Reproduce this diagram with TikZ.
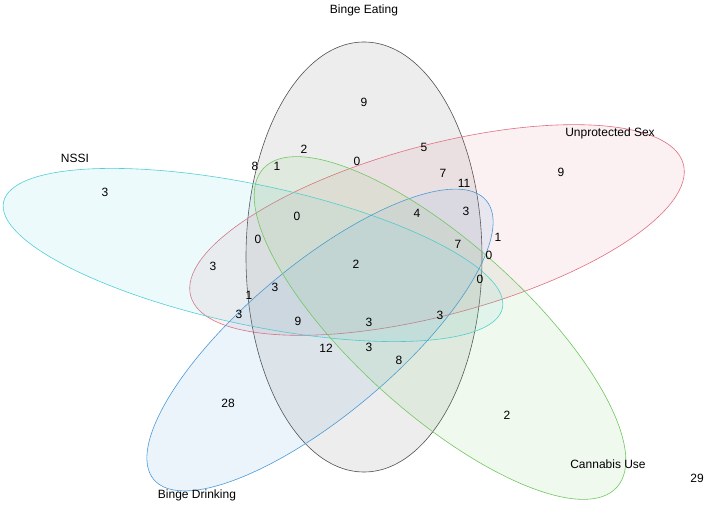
\documentclass[tikz,border=0pt]{standalone}
\usepackage{fontspec}
\setmainfont{Liberation Sans}
\definecolor{eatcol}{HTML}{505050}
\definecolor{sexcol}{HTML}{E07080}
\definecolor{nssicol}{HTML}{50D0D8}
\definecolor{drinkcol}{HTML}{4A9AD8}
\definecolor{cancol}{HTML}{70C860}
\tikzset{set/.style={draw=#1,fill=#1,fill opacity=0.1,draw opacity=1,line width=0.6pt},
  count/.style={font=\fontsize{12}{14}\selectfont,inner sep=0pt},
  setname/.style={font=\fontsize{12}{14}\selectfont,inner sep=0pt}}
\begin{document}
\begin{tikzpicture}[x=1pt,y=1pt]
\useasboundingbox (0,0) rectangle (709,506);
\fill[white] (0,0) rectangle (709,506);
% sets
\draw[set=eatcol] (364,249) ellipse [x radius=118,y radius=215];
\draw[set=sexcol] (437,276) ellipse [x radius=255,y radius=85,rotate=15];
\draw[set=nssicol] (253,251) ellipse [x radius=255,y radius=70,rotate=-12];
\draw[set=drinkcol] (320,166) ellipse [x radius=217,y radius=75,rotate=40];
\draw[set=cancol] (440,178) ellipse [x radius=238,y radius=85,rotate=-42];
% set names
\node[setname] (eat) at (364,496) {Binge Eating};
\node[setname] (sex) at (610,373) {Unprotected Sex};
\node[setname] (nssi) at (75,348) {NSSI};
\node[setname] (drink) at (197,11) {Binge Drinking};
\node[setname] (can) at (608,42) {Cannabis Use};
\node[count] (out) at (697,28) {29};
% counts
\foreach \x/\y/\n [count=\i] in {364/102/9, 561/172/9, 105/192/3, 228/403/28, 507/415/2,
  255/166/8, 277/166/1, 304/149/2, 357/161/0, 424/147/5, 443/173/7, 464/183/11,
  297/216/0, 417/213/4, 466/211/3, 258/239/0, 213/266/3, 356/264/2, 458/244/7,
  498/237/1, 489/255/0, 480/279/0, 249/295/1, 275/287/3, 239/314/3, 298/321/9,
  369/322/3, 440/315/3, 326/348/12, 369/347/3, 399/360/8}
  \node[count] (c\i) at (\x,506-\y) {\n};
\end{tikzpicture}
\end{document}
